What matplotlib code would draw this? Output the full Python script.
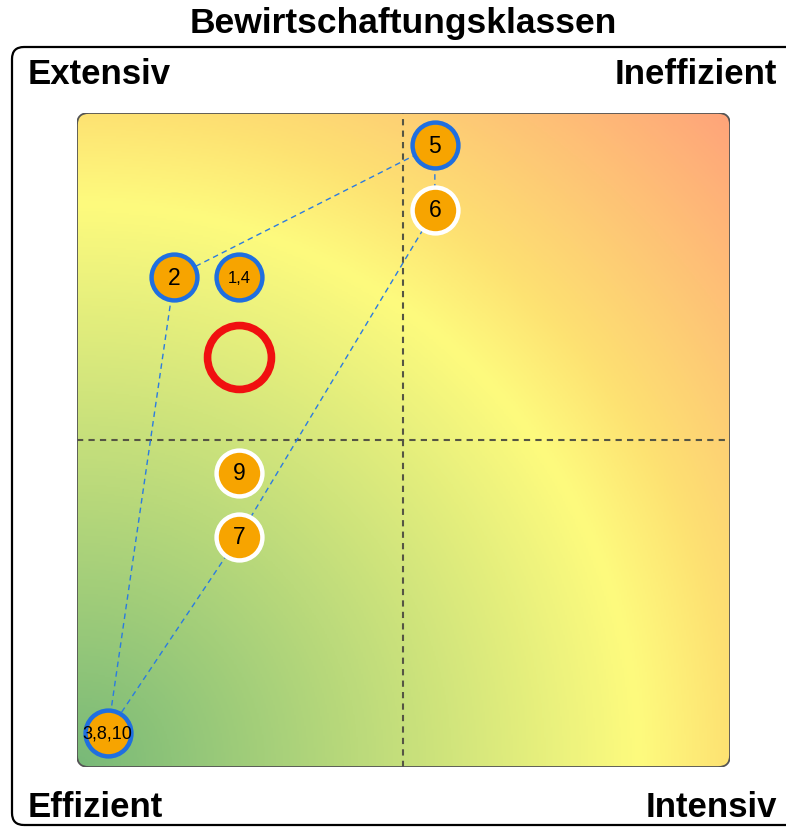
import numpy as np
import matplotlib.pyplot as plt
from matplotlib.patches import FancyBboxPatch
from matplotlib.colors import LinearSegmentedColormap

plt.rcParams['font.family'] = ['Liberation Sans', 'DejaVu Sans']

# data (position in the quadrant, 0..1 on both axes)
labels = ["5", "6", "2", "1,4", "9", "7", "3,8,10"]
x_vals = [0.548, 0.548, 0.149, 0.248, 0.248, 0.248, 0.047]
y_vals = [0.951, 0.852, 0.749, 0.749, 0.450, 0.352, 0.052]
ring = ["blue", "white", "blue", "blue", "white", "white", "blue"]
hull = ["5", "6", "7", "3,8,10", "2", "5"]
mean_x, mean_y = 0.248, 0.627
corner_labels = ["Extensiv", "Ineffizient", "Effizient", "Intensiv"]
title = "Bewirtschaftungsklassen"

W, H = 786, 829
fig = plt.figure(figsize=(W / 100, H / 100), dpi=100)

# outer frame (pixel coords)
frame = FancyBboxPatch((12, 3), 800, 778, boxstyle="round,pad=0,rounding_size=12",
                       transform=None, fill=False, ec="black", lw=1.6, clip_on=False)
fig.patches.append(frame)

fig.text(403 / W, 1 - 24 / H, title, ha="center", va="center", fontsize=25.5, fontweight="bold")
fig.text(28 / W, 1 - 75 / H, corner_labels[0], ha="left", va="center", fontsize=25, fontweight="bold")
fig.text(777 / W, 1 - 75 / H, corner_labels[1], ha="right", va="center", fontsize=25, fontweight="bold")
fig.text(28 / W, 1 - 808 / H, corner_labels[2], ha="left", va="center", fontsize=25, fontweight="bold")
fig.text(777 / W, 1 - 808 / H, corner_labels[3], ha="right", va="center", fontsize=25, fontweight="bold")

ax = fig.add_axes([77 / W, (H - 768) / H, 653 / W, 654 / H])
ax.set_xlim(0, 1)
ax.set_ylim(0, 1)
ax.axis("off")

# radial background from the efficient corner
cmap = LinearSegmentedColormap.from_list("bg", [
    (0.0, "#78b978"), (0.61, "#fefb7e"), (0.71, "#fde172"), (1.0, "#ffa47a")])
gx, gy = np.meshgrid(np.linspace(0, 1, 400), np.linspace(0, 1, 400))
r = np.sqrt(gx ** 2 + gy ** 2) / np.sqrt(2)
box = FancyBboxPatch((0, 0), 1, 1, boxstyle="round,pad=0,rounding_size=0.018",
                     transform=ax.transData, fc="none", ec="#555555", lw=1.3, zorder=5)
ax.add_patch(box)
im = ax.imshow(r, cmap=cmap, extent=[0, 1, 0, 1], origin="lower", vmin=0, vmax=1,
               aspect="auto", zorder=0)
im.set_clip_path(box)

ax.axvline(0.5, color="#555544", ls=(0, (3, 2.5)), lw=1.5, zorder=1)
ax.axhline(0.5, color="#555544", ls=(0, (3, 2.5)), lw=1.5, zorder=1)

# dashed hull
pos = {lab: (x, y) for lab, x, y in zip(labels, x_vals, y_vals)}
ax.plot([pos[h][0] for h in hull], [pos[h][1] for h in hull],
        color="#2b7be0", ls=(0, (4, 3)), lw=1, zorder=2)

ax.plot(mean_x, mean_y, "o", ms=46, mfc="none", mec="#f01010", mew=5.5, zorder=3)

edge = {"blue": "#1f6fe0", "white": "white"}
for lab, x, y, rc in zip(labels, x_vals, y_vals, ring):
    ax.plot(x, y, "o", ms=33, mfc="#f7a400", mec=edge[rc], mew=3.2, zorder=4)
    fs = 16.5 if len(lab) == 1 else (12 if len(lab) == 3 else 13)
    ax.text(x, y, lab, ha="center", va="center", fontsize=fs, zorder=6)

fig.savefig("out.png", dpi=100)
